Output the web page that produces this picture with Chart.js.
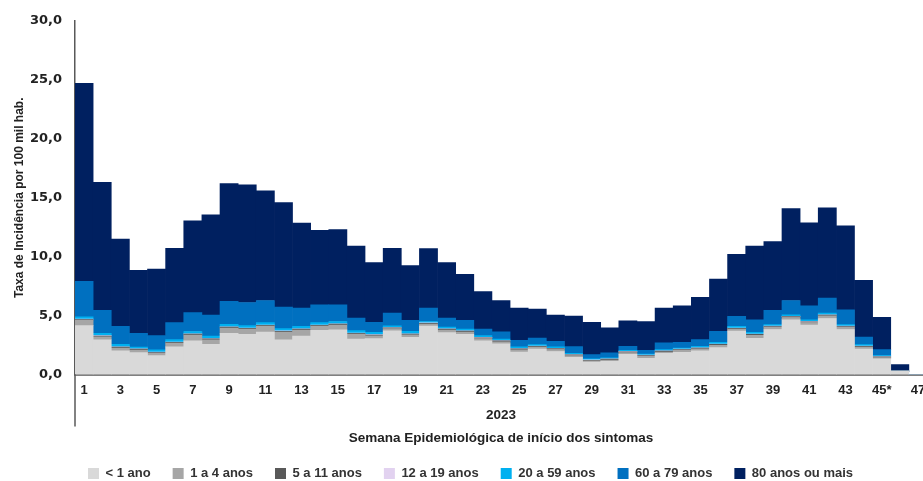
<!DOCTYPE html>
<html><head><meta charset="utf-8">
<script src="https://cdn.jsdelivr.net/npm/chart.js@4.4.0/dist/chart.umd.min.js"></script>
<style>html,body{margin:0;padding:0;background:#fff;overflow:hidden;width:923px;height:481px}
#wrap{position:absolute;left:0;top:0;width:935px;height:481px}</style>
</head><body><div id="wrap"><canvas id="c"></canvas></div>
<script>
const weeks = ['1','2','3','4','5','6','7','8','9','10','11','12','13','14','15','16','17','18','19','20','21','22','23','24','25','26','27','28','29','30','31','32','33','34','35','36','37','38','39','40','41','42','43','44','45*','46','47'];
const yearLabel = '2023';
const xTitle = 'Semana Epidemiológica de início dos sintomas';
const yTitle = 'Taxa de Incidência por 100 mil hab.';
const yTicks = [0,5,10,15,20,25,30];

const lt1 = [4.15,2.95,2.0,1.85,1.6,2.35,2.85,2.55,3.5,3.4,3.6,2.95,3.25,3.75,3.8,3.0,3.05,3.7,3.15,4.1,3.55,3.4,2.85,2.6,1.9,2.15,1.95,1.45,1.05,1.12,1.72,1.38,1.8,1.88,2.0,2.28,3.68,3.08,3.82,4.65,4.2,4.75,3.82,2.15,1.32,0.28,0];
const a1to4 = [0.45,0.25,0.25,0.23,0.2,0.31,0.5,0.4,0.45,0.45,0.5,0.65,0.53,0.35,0.4,0.42,0.23,0.19,0.21,0.18,0.23,0.21,0.2,0.18,0.2,0.17,0.17,0.15,0.1,0.11,0.14,0.16,0.11,0.17,0.17,0.2,0.17,0.25,0.18,0.19,0.21,0.22,0.18,0.17,0.11,0,0];
const a5to11 = [0.07,0.07,0.07,0.07,0.07,0.07,0.07,0.07,0.07,0.07,0.07,0.07,0.07,0.07,0.07,0.07,0.07,0.07,0.07,0.07,0.07,0.07,0.07,0.07,0.07,0.07,0.07,0.07,0.06,0.07,0.07,0.07,0.07,0.07,0.07,0.07,0.07,0.07,0.07,0.07,0.07,0.07,0.07,0.07,0.07,0,0];
const a12to19 = [0.03,0.03,0.03,0.03,0.03,0.03,0.03,0.03,0.03,0.03,0.03,0.03,0.03,0.03,0.03,0.03,0.03,0.03,0.03,0.03,0.03,0.03,0.03,0.03,0.03,0.03,0.03,0.03,0.03,0.03,0.03,0.03,0.03,0.03,0.03,0.03,0.03,0.03,0.03,0.03,0.03,0.03,0.03,0.03,0.03,0,0];
const a20to59 = [0.2,0.2,0.2,0.15,0.2,0.2,0.2,0.2,0.2,0.2,0.2,0.2,0.2,0.2,0.2,0.2,0.2,0.15,0.2,0.12,0.15,0.15,0.15,0.13,0.14,0.12,0.12,0.1,0.08,0.08,0.1,0.1,0.1,0.1,0.12,0.15,0.13,0.15,0.13,0.13,0.14,0.14,0.13,0.12,0.08,0,0];
const a60to79 = [3.0,1.94,1.53,1.17,1.2,1.44,1.6,1.8,1.95,1.96,1.88,1.82,1.56,1.52,1.42,1.07,0.84,1.07,0.93,1.14,0.76,0.73,0.56,0.61,0.56,0.56,0.48,0.56,0.37,0.42,0.33,0.31,0.57,0.48,0.57,0.93,0.85,1.07,1.21,1.21,1.18,1.27,1.26,0.64,0.5,0,0];
const a80plus = [16.8,10.86,7.42,5.35,5.65,6.3,7.8,8.5,10.0,9.99,9.3,8.88,7.21,6.32,6.38,6.11,5.08,5.49,4.65,5.04,4.71,3.91,3.18,2.66,2.73,2.45,2.22,2.59,2.73,2.14,2.17,2.45,2.95,3.1,3.58,4.44,5.27,6.25,5.83,7.81,7.04,7.66,7.13,4.82,2.74,0.57,0];

const seriesNames = ['< 1 ano','1 a 4 anos','5 a 11 anos','12 a 19 anos','20 a 59 anos','60 a 79 anos','80 anos ou mais'];
const seriesData = [lt1,a1to4,a5to11,a12to19,a20to59,a60to79,a80plus];
const seriesColors = ['#d9d9d9','#a6a6a6','#595959','#e2d2f0','#00b0f0','#0070c0','#002060'];

const axisExt = {
  id:'axisExt',
  afterDraw(chart){
    const ctx = chart.ctx, a = chart.chartArea;
    ctx.save();
    ctx.strokeStyle = '#595959';
    ctx.lineWidth = 1.5;
    ctx.beginPath();
    ctx.moveTo(a.left, a.bottom);
    ctx.lineTo(a.left, a.bottom + 52);
    ctx.stroke();
    ctx.restore();
  }
};

new Chart(document.getElementById('c'), {
  type:'bar',
  data:{
    labels: weeks,
    datasets: seriesNames.map((n,i)=>({label:n,data:seriesData[i],backgroundColor:seriesColors[i],borderWidth:0,barPercentage:1,categoryPercentage:1}))
  },
  options:{
    responsive:true, maintainAspectRatio:false, animation:false,
    layout:{padding:{left:14,right:8,top:21,bottom:-9}},
    plugins:{
      tooltip:{enabled:false},
      legend:{position:'bottom',labels:{boxWidth:11,boxHeight:11,padding:22,color:'#333',font:{family:'Arial',size:13,weight:'bold'}}}
    },
    scales:{
      x:{stacked:true,
        grid:{display:false},
        border:{display:true,color:'#808080',width:2},
        ticks:{autoSkip:false,maxRotation:0,padding:0,color:'#222',font:{family:'Arial',size:13,weight:'bold'},
          callback:function(v,i){return i%2===0?weeks[i]:'';}},
        title:{display:true,text:[yearLabel,xTitle],color:'#222',font:{family:'Arial',size:13.5,weight:'bold',lineHeight:1.7},padding:{top:6,bottom:-5}}
      },
      y:{stacked:true,min:0,max:30,
        afterFit(s){s.width=61;},
        afterBuildTicks(s){s.ticks=yTicks.map(v=>({value:v}));},
        grid:{display:false},
        border:{display:true,color:'#595959',width:1.5},
        ticks:{padding:5,color:'#222',font:{family:'DejaVu Sans',size:13,weight:'bold'},callback:v=>v.toFixed(1).replace('.',',')},
        title:{display:true,text:yTitle,color:'#222',font:{family:'Arial',size:12,weight:'bold'},padding:{top:-2,bottom:0}}
      }
    }
  },
  plugins:[axisExt]
});
</script></body></html>
